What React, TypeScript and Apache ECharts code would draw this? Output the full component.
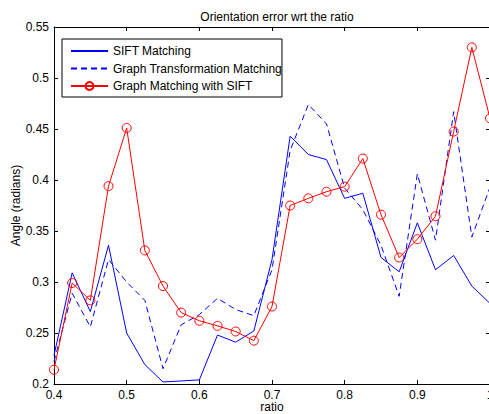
import React, { useEffect, useRef } from "react";
import * as echarts from "echarts";

const ratios = [0.4, 0.425, 0.45, 0.475, 0.5, 0.525, 0.55, 0.575, 0.6, 0.625, 0.65, 0.675, 0.7, 0.725, 0.75, 0.775, 0.8, 0.825, 0.85, 0.875, 0.9, 0.925, 0.95, 0.975, 1.0];

const siftMatching = [0.228, 0.309, 0.271, 0.336, 0.25, 0.219, 0.202, 0.203, 0.204, 0.248, 0.241, 0.252, 0.322, 0.443, 0.425, 0.42, 0.382, 0.387, 0.324, 0.31, 0.358, 0.312, 0.326, 0.296, 0.279];

const graphTransformation = [0.222, 0.289, 0.256, 0.322, 0.3, 0.282, 0.215, 0.258, 0.268, 0.284, 0.273, 0.267, 0.312, 0.429, 0.474, 0.455, 0.392, 0.371, 0.336, 0.286, 0.406, 0.341, 0.467, 0.344, 0.393];

const graphMatchingSift = [0.214, 0.299, 0.282, 0.394, 0.451, 0.331, 0.296, 0.27, 0.262, 0.257, 0.2515, 0.2425, 0.276, 0.375, 0.382, 0.3885, 0.3935, 0.421, 0.366, 0.324, 0.342, 0.3645, 0.4475, 0.53, 0.4605];

const seriesNames = ["SIFT Matching", "Graph Transformation Matching", "Graph Matching with SIFT"];

const FONT = "'Liberation Sans', Arial, Helvetica, sans-serif";

const pairs = (ys: number[]) => ratios.map((x, i) => [x, ys[i]]);

export default function App() {
  const ref = useRef<HTMLDivElement>(null);
  useEffect(() => {
    if (!ref.current) return;
    const chart = echarts.init(ref.current, null, { renderer: "svg" });
    const axisLine = { show: true, lineStyle: { color: "#000", width: 1 } };
    const noSymbol = { color: "rgba(0,0,0,0)", borderWidth: 0, opacity: 0 };
    chart.setOption({
      animation: false,
      backgroundColor: "#fff",
      textStyle: { fontFamily: FONT },
      title: {
        text: "Orientation error wrt the ratio",
        left: 272,
        textAlign: "center",
        top: 6,
        textStyle: { fontSize: 12, fontWeight: "normal", color: "#000", fontFamily: FONT },
      },
      grid: { left: 54, top: 27, width: 436, height: 357, containLabel: false, outerBoundsMode: "none" },
      legend: {
        data: [
          { name: seriesNames[0], itemStyle: noSymbol },
          { name: seriesNames[1], itemStyle: noSymbol },
          { name: seriesNames[2] },
        ],
        orient: "vertical",
        left: 62,
        top: 39,
        padding: [6, 0, 5, 8],
        itemWidth: 37,
        itemHeight: 10,
        itemGap: 5.5,
        borderColor: "#000",
        borderWidth: 1,
        borderRadius: 0,
        backgroundColor: "#fff",
        textStyle: { fontSize: 12, color: "#000", fontFamily: FONT, padding: [0, 0, 0, 0] },
      },
      xAxis: [
        {
          type: "value",
          min: 0.4,
          max: 1.0,
          interval: 0.1,
          name: "ratio",
          nameLocation: "middle",
          nameGap: 17,
          nameMoveOverlap: false,
          nameTextStyle: { fontSize: 12, lineHeight: 12, color: "#000", fontFamily: FONT },
          axisLine,
          axisTick: { show: true, inside: true, length: 4, lineStyle: { color: "#000" } },
          axisLabel: { fontSize: 12, lineHeight: 11, color: "#000", margin: 5, fontFamily: FONT },
          splitLine: { show: false },
        },
        {
          type: "value",
          position: "top",
          min: 0.4,
          max: 1.0,
          interval: 0.1,
          axisLine,
          axisTick: { show: true, inside: true, length: 4, lineStyle: { color: "#000" } },
          axisLabel: { show: false },
          splitLine: { show: false },
        },
      ],
      yAxis: [
        {
          type: "value",
          min: 0.2,
          max: 0.55,
          interval: 0.05,
          name: "Angle (radians)",
          nameLocation: "middle",
          nameRotate: 90,
          nameGap: 32,
          nameMoveOverlap: false,
          nameTextStyle: { fontSize: 12, color: "#000", fontFamily: FONT },
          axisLine,
          axisTick: { show: true, inside: true, length: 4, lineStyle: { color: "#000" } },
          axisLabel: { fontSize: 12, color: "#000", margin: 5, fontFamily: FONT },
          splitLine: { show: false },
        },
        {
          type: "value",
          position: "right",
          min: 0.2,
          max: 0.55,
          interval: 0.05,
          axisLine,
          axisTick: { show: true, inside: true, length: 4, lineStyle: { color: "#000" } },
          axisLabel: { show: false },
          splitLine: { show: false },
        },
      ],
      series: [
        {
          name: seriesNames[0],
          type: "line",
          data: pairs(siftMatching),
          symbol: "none",
          lineStyle: { color: "#0000ff", width: 1 },
          itemStyle: { color: "#0000ff" },
        },
        {
          name: seriesNames[1],
          type: "line",
          data: pairs(graphTransformation),
          symbol: "none",
          lineStyle: { color: "#0000ff", width: 1, type: [6, 4] },
          itemStyle: { color: "#0000ff" },
        },
        {
          name: seriesNames[2],
          type: "line",
          data: pairs(graphMatchingSift),
          symbol: "circle",
          symbolSize: 9,
          lineStyle: { color: "#ff0000", width: 1 },
          itemStyle: { color: "rgba(255,255,255,0)", borderColor: "#ff0000", borderWidth: 1 },
        },
      ],
    });
    return () => chart.dispose();
  }, []);
  return (
    <div
      ref={ref}
      style={{ position: "fixed", left: 0, top: 0, width: 489, height: 414 }}
    />
  );
}
